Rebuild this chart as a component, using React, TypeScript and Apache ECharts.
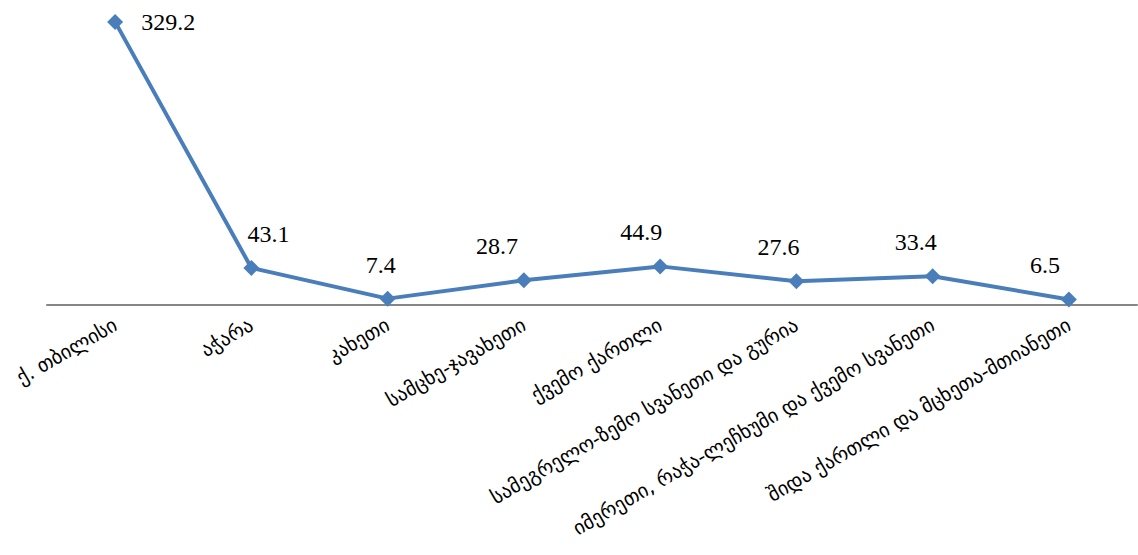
import React, { useEffect, useRef } from "react";
import * as echarts from "echarts";

const categories = [
  "ქ. თბილისი",
  "აჭარა",
  "კახეთი",
  "სამცხე-ჯავახეთი",
  "ქვემო ქართლი",
  "სამეგრელო-ზემო სვანეთი და გურია",
  "იმერეთი, რაჭა-ლეჩხუმი და ქვემო სვანეთი",
  "შიდა ქართლი და მცხეთა-მთიანეთი",
];
const values = [329.2, 43.1, 7.4, 28.7, 44.9, 27.6, 33.4, 6.5];
const labelOffsets = [
  [0, 0],
  [17, 0],
  [-7, 0],
  [-27, 0],
  [-19, 0],
  [-18, 0],
  [-17, 0],
  [-24, 0],
];

const serif = "'Liberation Serif', 'Times New Roman', serif";
const valueFont = {
  show: true,
  color: "#000",
  fontFamily: serif,
  fontSize: 24,
  formatter: "{v|{c}}",
  rich: { v: { fontFamily: serif, fontSize: 24, color: "#000" } },
};

export default function App() {
  const ref = useRef<HTMLDivElement>(null);
  useEffect(() => {
    const chart = echarts.init(ref.current!, null, { renderer: "svg" });
    chart.setOption({
      animation: false,
      grid: { left: 47, right: 1, top: 4, bottom: 250, containLabel: false },
      xAxis: {
        type: "category",
        data: categories,
        boundaryGap: true,
        axisLine: { lineStyle: { color: "#868686", width: 2 } },
        axisTick: { show: false },
        axisLabel: {
          rotate: 30,
          interval: 0,
          margin: 18,
          color: "#000",
          fontFamily: "DejaVu Sans",
          fontSize: 20,
        },
      },
      yAxis: {
        type: "value",
        min: 0,
        max: 350,
        show: false,
        splitLine: { show: false },
      },
      series: [
        {
          type: "line",
          data: values.map((v, i) => ({
            value: v,
            label:
              i === 0
                ? { ...valueFont, position: "right", distance: 18 }
                : {
                    ...valueFont,
                    position: "top",
                    distance: 14,
                    offset: labelOffsets[i],
                  },
          })),
          symbol: "diamond",
          symbolSize: 16,
          lineStyle: { color: "#4A7EBB", width: 4 },
          itemStyle: { color: "#4A7EBB" },
          label: valueFont,
        },
      ],
    });
    return () => chart.dispose();
  }, []);
  return (
    <div
      ref={ref}
      style={{ position: "absolute", left: 0, top: 0, width: 1138, height: 555 }}
    />
  );
}
